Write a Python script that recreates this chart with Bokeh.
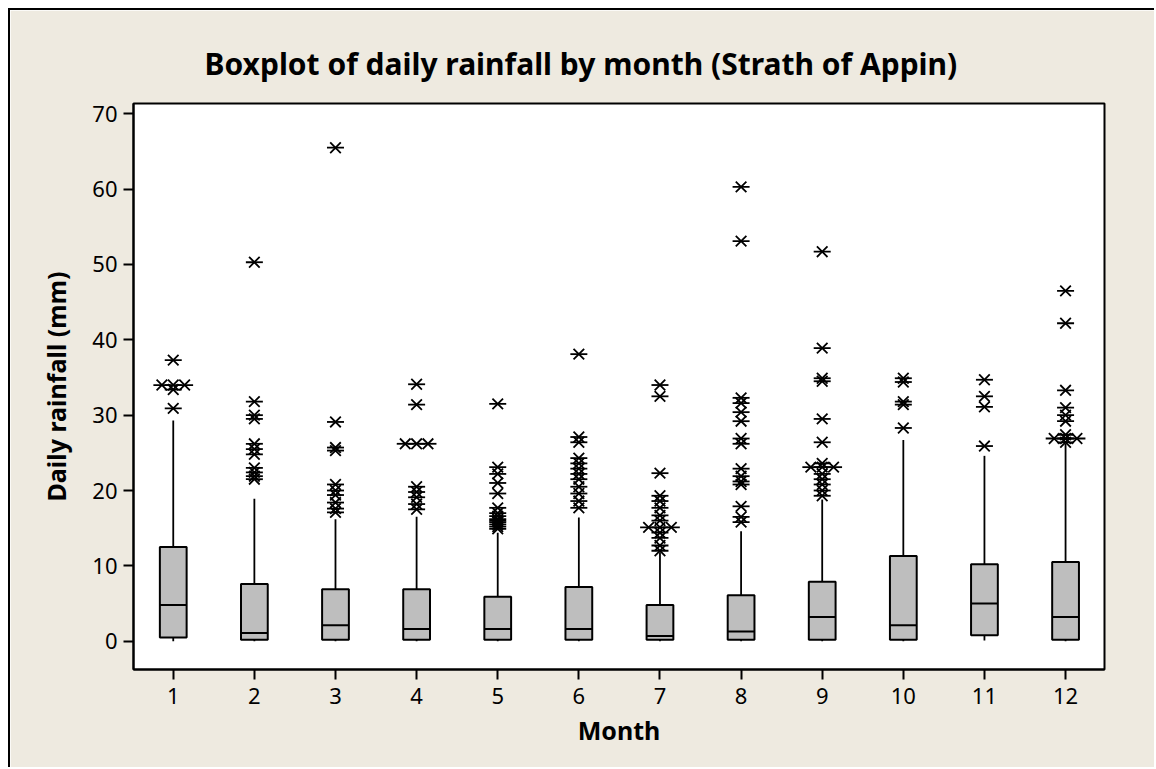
from bokeh.plotting import figure
from bokeh.models import Range1d, FixedTicker, Title, ColumnDataSource
from bokeh.embed import file_html
from bokeh.resources import INLINE

# ---------------- data ----------------
months = [1, 2, 3, 4, 5, 6, 7, 8, 9, 10, 11, 12]
whisker_low = [0.0, 0.0, 0.0, 0.0, 0.0, 0.0, 0.0, 0.0, 0.0, 0.0, 0.1, 0.0]
q1 = [0.5, 0.2, 0.2, 0.2, 0.2, 0.2, 0.2, 0.2, 0.2, 0.2, 0.8, 0.2]
median = [4.8, 1.1, 2.1, 1.6, 1.6, 1.6, 0.7, 1.3, 3.2, 2.1, 5.0, 3.2]
q3 = [12.5, 7.6, 6.9, 6.9, 5.9, 7.2, 4.8, 6.1, 7.9, 11.3, 10.2, 10.5]
whisker_high = [29.3, 18.9, 16.2, 16.5, 14.4, 16.4, 11.8, 14.6, 18.8, 26.7, 24.6, 26.2]

outliers_m1 = [37.3, 34.0, 34.0, 34.0, 33.4, 30.9]
outliers_m2 = [50.3, 31.8, 30.0, 29.5, 26.2, 25.5, 24.8, 23.0, 22.4, 21.9, 21.5]
outliers_m3 = [65.5, 29.1, 25.7, 25.3, 20.8, 20.0, 19.4, 18.4, 17.6, 17.1]
outliers_m4 = [34.1, 31.4, 26.2, 26.2, 26.2, 20.5, 19.8, 19.1, 18.2, 17.5]
outliers_m5 = [31.5, 23.1, 22.2, 21.0, 19.6, 17.7, 17.0, 16.6, 16.2, 16.0, 15.8, 15.5, 15.2, 14.9]
outliers_m6 = [38.1, 27.1, 26.4, 24.3, 23.6, 22.9, 22.2, 21.5, 20.5, 19.6, 18.6, 17.7]
outliers_m7 = [34.0, 32.5, 22.3, 19.3, 18.6, 17.7, 16.7, 16.0, 15.1, 15.1, 15.1, 14.4, 13.7, 12.7, 12.0]
outliers_m8 = [60.3, 53.1, 32.3, 31.6, 30.4, 29.2, 26.9, 26.2, 22.9, 21.9, 21.2, 20.8, 17.9, 16.5, 15.8]
outliers_m9 = [51.7, 38.9, 34.9, 34.5, 29.5, 26.4, 23.6, 23.1, 23.1, 23.1, 22.2, 21.5, 20.8, 20.0, 19.3]
outliers_m10 = [34.9, 34.4, 31.8, 31.4, 28.3]
outliers_m11 = [34.7, 32.5, 31.1, 25.9]
outliers_m12 = [46.5, 42.2, 33.3, 31.0, 30.0, 29.2, 27.4, 26.9, 26.9, 26.9, 26.4]

y_ticks = [0, 10, 20, 30, 40, 50, 60, 70]
title_text = "Boxplot of daily rainfall by month (Strath of Appin)"
x_label = "Month"
y_label = "Daily rainfall (mm)"

all_outliers = [outliers_m1, outliers_m2, outliers_m3, outliers_m4, outliers_m5, outliers_m6,
                outliers_m7, outliers_m8, outliers_m9, outliers_m10, outliers_m11, outliers_m12]

# ---------------- styling ----------------
BG = "#EEEAE0"
BOX = "#BEBEBE"
FONT = "Noto Sans"
box_w = 0.33
tie_step = 0.14

# outlier positions: tied values are spread horizontally around the month
ox, oy = [], []
for m, vals in zip(months, all_outliers):
    counts = {}
    for v in vals:
        counts[v] = counts.get(v, 0) + 1
    seen = {}
    for v in vals:
        n = counts[v]
        i = seen.get(v, 0)
        seen[v] = i + 1
        ox.append(m + (i - (n - 1) / 2) * tie_step)
        oy.append(v)

src = ColumnDataSource(dict(
    m=months, lo=whisker_low, q1=q1, med=median, q3=q3, hi=whisker_high,
    mx0=[m - box_w / 2 for m in months], mx1=[m + box_w / 2 for m in months],
))
osrc = ColumnDataSource(dict(x=ox, y=oy))

p = figure(width=1146, height=759, output_backend="svg", toolbar_location=None,
           x_range=Range1d(0.51, 12.48), y_range=Range1d(-3.76, 71.37),
           min_border_left=123, min_border_right=52, min_border_top=93, min_border_bottom=100)
p.styles = {"margin-left": "8px", "margin-top": "8px",
            "border-left": "2px solid black", "border-top": "2px solid black",
            "border-right": "0px none", "border-bottom": "0px none",
            "outline": "none", "box-shadow": "none"}

p.border_fill_color = BG
p.background_fill_color = "white"
p.outline_line_color = "black"
p.outline_line_width = 2
p.grid.visible = False

# whiskers
p.segment(x0="m", y0="q3", x1="m", y1="hi", source=src, line_color="black", line_width=1.8)
p.segment(x0="m", y0="lo", x1="m", y1="q1", source=src, line_color="black", line_width=1.8)
# boxes
p.vbar(x="m", width=box_w, bottom="q1", top="q3", source=src,
       fill_color=BOX, line_color="black", line_width=2)
# medians
p.segment(x0="mx0", y0="med", x1="mx1", y1="med", source=src, line_color="black", line_width=2)
# outliers (asterisk = x + dash)
p.scatter(x="x", y="y", source=osrc, marker="x", size=15, line_color="black", line_width=1.8)
p.scatter(x="x", y="y", source=osrc, marker="dash", size=17, line_color="black", line_width=1.8)

# axes
for ax in (p.xaxis[0], p.yaxis[0]):
    ax.axis_line_color = "black"
    ax.axis_line_width = 2
    ax.major_tick_line_color = "black"
    ax.major_tick_line_width = 2
    ax.major_tick_out = 10
    ax.major_tick_in = 0
    ax.minor_tick_line_color = None
    ax.major_label_text_font = FONT
    ax.major_label_text_font_size = "22px"
    ax.major_label_text_color = "black"
    ax.axis_label_text_font = FONT
    ax.axis_label_text_font_size = "25px"
    ax.axis_label_text_font_style = "bold"
    ax.axis_label_text_color = "black"

p.xaxis.ticker = FixedTicker(ticks=months)
p.yaxis.ticker = FixedTicker(ticks=y_ticks)
p.xaxis.axis_label = x_label
p.yaxis.axis_label = y_label
p.xaxis.major_label_standoff = 8
p.yaxis.major_label_standoff = 6
p.xaxis.axis_label_standoff = 6
p.yaxis.axis_label_standoff = 16

p.add_layout(Title(text=title_text, align="left", offset=71, standoff=40,
                   text_font=FONT, text_font_size="30px", text_font_style="bold",
                   text_color="black"), "above")

open("out.html", "w").write(file_html(p, INLINE))
